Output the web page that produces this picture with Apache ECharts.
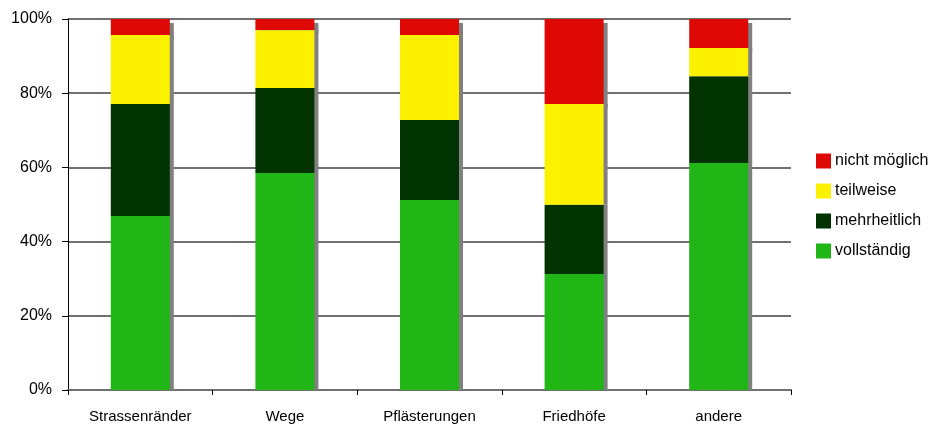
<!DOCTYPE html>
<html>
<head>
<meta charset="utf-8">
<script src="https://cdn.jsdelivr.net/npm/echarts@6/dist/echarts.min.js"></script>
<style>
  html, body { margin: 0; padding: 0; background: #fff; }
  #chart { width: 937px; height: 428px; }
</style>
</head>
<body>
<div id="chart"></div>
<script>
// Anteile je Standorttyp (in %)
const categories = ['Strassenränder', 'Wege', 'Pflästerungen', 'Friedhöfe', 'andere'];
const vollstaendig = [46.9, 58.5, 51.2, 31.3, 61.2];
const mehrheitlich = [30.2, 22.9, 21.6, 18.6, 23.4];
const teilweise    = [18.6, 15.6, 22.9, 27.2, 7.6];
const nichtMoeglich = [4.3, 3.0, 4.3, 22.9, 7.8];
const yTicks = [0, 20, 40, 60, 80, 100];

const FONT = '"Liberation Sans", Arial, sans-serif';
const SHADOW = '#808080';

function seg(name, data, color, opts) {
  return Object.assign({
    name: name,
    type: 'bar',
    stack: 'total',
    data: data,
    barWidth: 59,
    z: 3,
    itemStyle: {
      color: color,
      shadowColor: SHADOW,
      shadowBlur: 0,
      shadowOffsetX: 4,
      shadowOffsetY: 0
    },
    emphasis: { disabled: true }
  }, opts || {});
}

const chart = echarts.init(document.getElementById('chart'), null, { renderer: 'canvas' });
chart.setOption({
  animation: false,
  backgroundColor: '#ffffff',
  textStyle: { fontFamily: FONT },
  grid: { left: 68, right: 146, top: 19, bottom: 38, containLabel: false },
  legend: {
    orient: 'vertical',
    left: 811,
    top: 148,
    itemWidth: 15,
    itemHeight: 15,
    itemGap: 14,
    icon: 'rect',
    data: ['nicht möglich', 'teilweise', 'mehrheitlich', 'vollständig'],
    textStyle: { fontFamily: FONT, fontSize: 16, color: '#000', padding: [0, 0, 0, -1] },
    selectedMode: false
  },
  xAxis: {
    type: 'category',
    data: categories,
    boundaryGap: true,
    axisLine: { show: true, lineStyle: { color: '#707070', width: 2 } },
    axisTick: { show: true, length: 5, inside: false, lineStyle: { color: '#000' } },
    axisLabel: { fontFamily: FONT, fontSize: 15, color: '#000', margin: 19 }
  },
  yAxis: {
    type: 'value',
    min: 0,
    max: 100,
    interval: 20,
    axisLine: { show: true, lineStyle: { color: '#000', width: 1 } },
    axisTick: { show: true, length: 6, inside: false, lineStyle: { color: '#000' } },
    axisLabel: {
      fontFamily: FONT, fontSize: 16, color: '#000', margin: 16,
      formatter: function (v) { return yTicks.indexOf(v) >= 0 ? v + '%' : ''; }
    },
    splitLine: { show: true, lineStyle: { color: '#707070', width: 2 } }
  },
  series: [
    seg('vollständig', vollstaendig, '#1fb616'),
    seg('mehrheitlich', mehrheitlich, '#003300'),
    seg('teilweise', teilweise, '#fcf200'),
    // oberstes Segment: Schatten auch nach unten versetzt, unter den übrigen Segmenten
    seg('nicht möglich', nichtMoeglich, '#de0804', {
      z: 2,
      itemStyle: {
        color: '#de0804',
        shadowColor: SHADOW,
        shadowBlur: 0,
        shadowOffsetX: 4,
        shadowOffsetY: 4
      }
    })
  ]
});
</script>
</body>
</html>
